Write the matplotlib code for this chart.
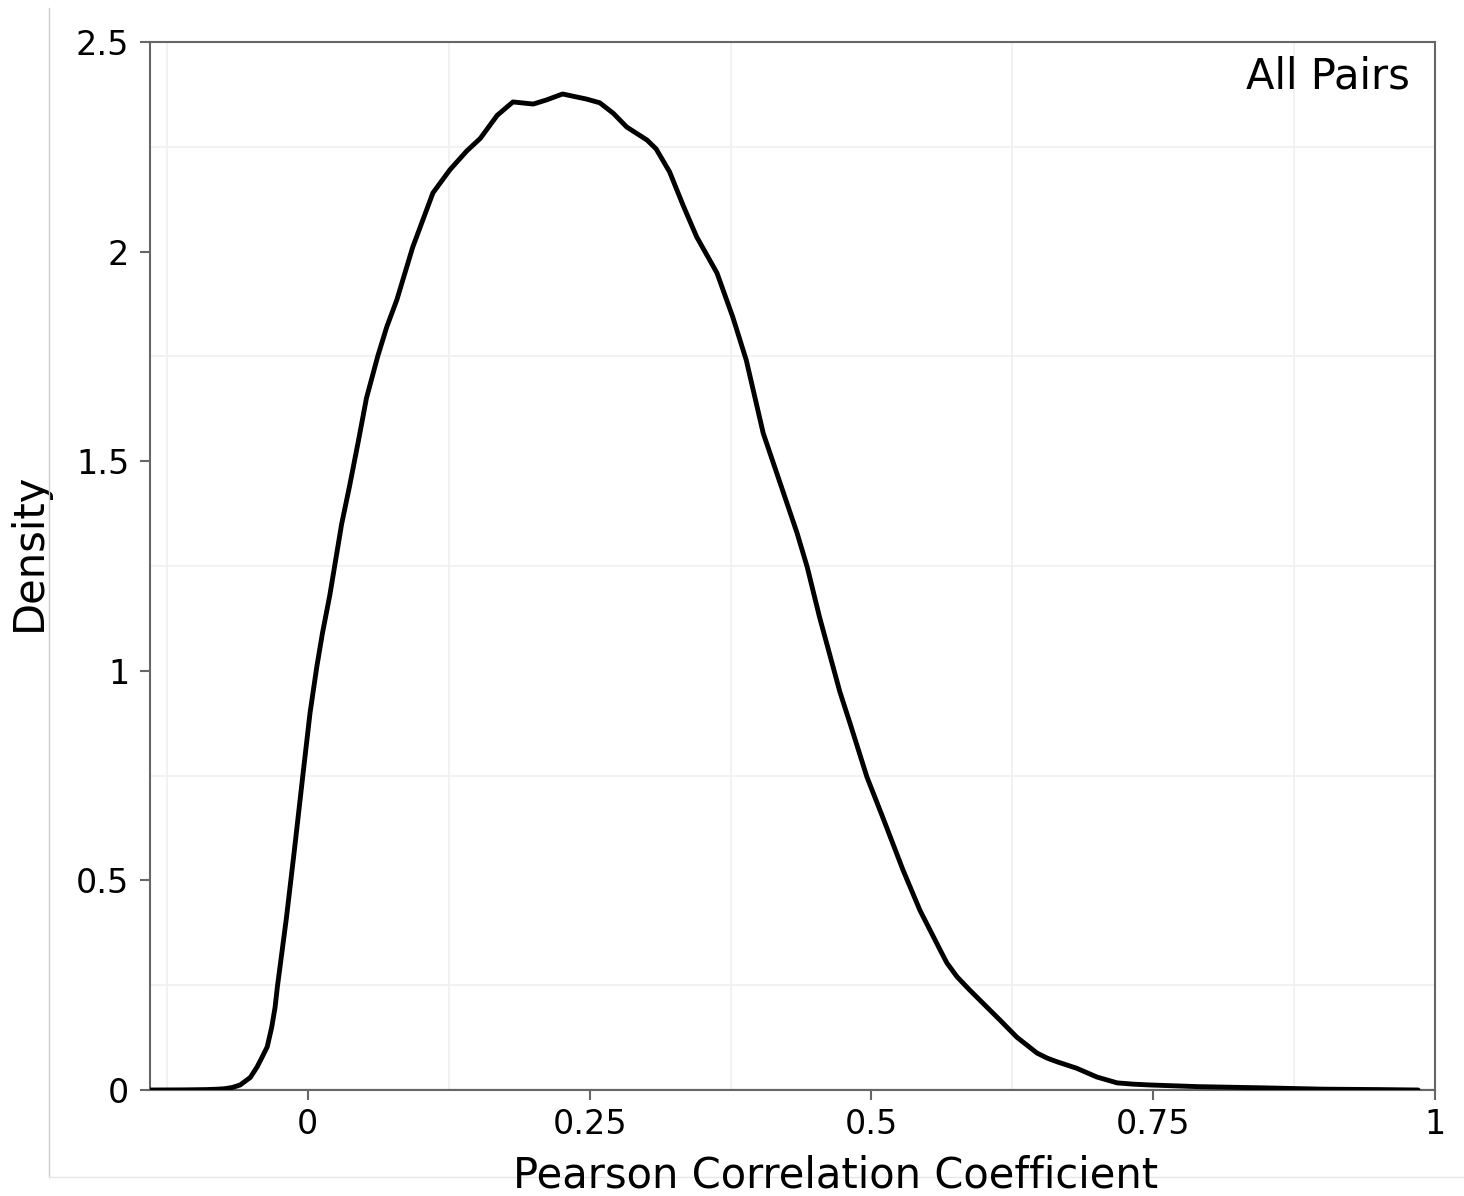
import numpy as np
import matplotlib
matplotlib.use("Agg")
import matplotlib.pyplot as plt
from matplotlib.lines import Line2D
from matplotlib.ticker import MultipleLocator

# Density curve (x = Pearson r, y = density)
r_values = [-0.14, -0.11, -0.09, -0.08, -0.074, -0.067, -0.06, -0.051, -0.045, -0.041,
            -0.036, -0.032, -0.029, -0.027, -0.019, -0.012, -0.004, 0.002, 0.008, 0.013,
            0.0195, 0.03, 0.037, 0.045, 0.052, 0.062, 0.070, 0.079, 0.093, 0.111,
            0.126, 0.141, 0.153, 0.168, 0.182, 0.2, 0.212, 0.226, 0.247, 0.259,
            0.271, 0.283, 0.301, 0.309, 0.321, 0.333, 0.345, 0.363, 0.377, 0.389,
            0.404, 0.419, 0.434, 0.443, 0.454, 0.472, 0.481, 0.496, 0.51, 0.528,
            0.543, 0.561, 0.567, 0.576, 0.587, 0.599, 0.614, 0.629, 0.638, 0.647,
            0.656, 0.665, 0.682, 0.70, 0.709, 0.718, 0.732, 0.747, 0.79, 0.85,
            0.9, 0.95, 0.985]
density = [0.0, 0.0003, 0.001, 0.002, 0.003, 0.006, 0.012, 0.03, 0.055, 0.076,
           0.103, 0.15, 0.198, 0.246, 0.41, 0.57, 0.76, 0.90, 1.01, 1.09,
           1.18, 1.35, 1.44, 1.55, 1.65, 1.75, 1.82, 1.885, 2.01, 2.14,
           2.195, 2.24, 2.27, 2.325, 2.357, 2.352, 2.362, 2.376, 2.364, 2.355,
           2.33, 2.297, 2.266, 2.245, 2.19, 2.11, 2.035, 1.949, 1.844, 1.741,
           1.567, 1.448, 1.329, 1.248, 1.128, 0.95, 0.875, 0.747, 0.651, 0.525,
           0.429, 0.334, 0.303, 0.27, 0.239, 0.207, 0.167, 0.126, 0.107, 0.088,
           0.076, 0.067, 0.052, 0.031, 0.024, 0.017, 0.014, 0.012, 0.008, 0.005,
           0.002, 0.001, 0.0]

x_ticks = [0, 0.25, 0.5, 0.75, 1]
x_ticklabels = ["0", "0.25", "0.5", "0.75", "1"]
y_ticks = [0, 0.5, 1, 1.5, 2, 2.5]
y_ticklabels = ["0", "0.5", "1", "1.5", "2", "2.5"]

fig = plt.figure(figsize=(14.64, 11.96), dpi=100)
ax = fig.add_axes([150 / 1464, 1 - 1090 / 1196, 1285 / 1464, 1048 / 1196])

ax.plot(r_values, density, color="black", lw=3.5, solid_capstyle="round",
        solid_joinstyle="round", zorder=3)
ax.axhline(0, color="black", lw=1.5, zorder=2)

ax.set_xlim(-0.14, 1.0)
ax.set_ylim(0, 2.5)
ax.set_xticks(x_ticks)
ax.set_xticklabels(x_ticklabels)
ax.set_yticks(y_ticks)
ax.set_yticklabels(y_ticklabels)

# grid only on the in-between positions
ax.xaxis.set_minor_locator(MultipleLocator(0.25, offset=0.125))
ax.yaxis.set_minor_locator(MultipleLocator(0.5, offset=0.25))
ax.grid(which="minor", color="#f0f0f0", lw=1.2)
ax.grid(which="major", visible=False)
ax.set_axisbelow(True)

for s in ax.spines.values():
    s.set_color("#666666")
    s.set_linewidth(1.5)

ax.tick_params(which="major", direction="out", length=7, width=1.5, color="#666666",
               labelsize=24, labelcolor="black")
ax.tick_params(axis="y", pad=8)
ax.tick_params(axis="x", pad=6)
ax.tick_params(which="minor", length=0)

ax.text(0.9805, 0.956, "All Pairs", transform=ax.transAxes, ha="right",
        va="baseline", fontsize=30)

ax.set_ylabel("Density", fontsize=30)
ax.yaxis.set_label_coords(-0.078, 0.514)
fig.text(836 / 1464, 8 / 1196, "Pearson Correlation Coefficient", ha="center",
         va="baseline", fontsize=30)

# faint outer frame (left and bottom)
fig.add_artist(Line2D([49 / 1464, 49 / 1464], [1 - 8 / 1196, 1 - 1177 / 1196],
                      transform=fig.transFigure, color="#cccccc", lw=1))
fig.add_artist(Line2D([49 / 1464, 1.0], [1 - 1177 / 1196, 1 - 1177 / 1196],
                      transform=fig.transFigure, color="#e6e6e6", lw=1))

fig.savefig("out.png", dpi=100, facecolor="white")
